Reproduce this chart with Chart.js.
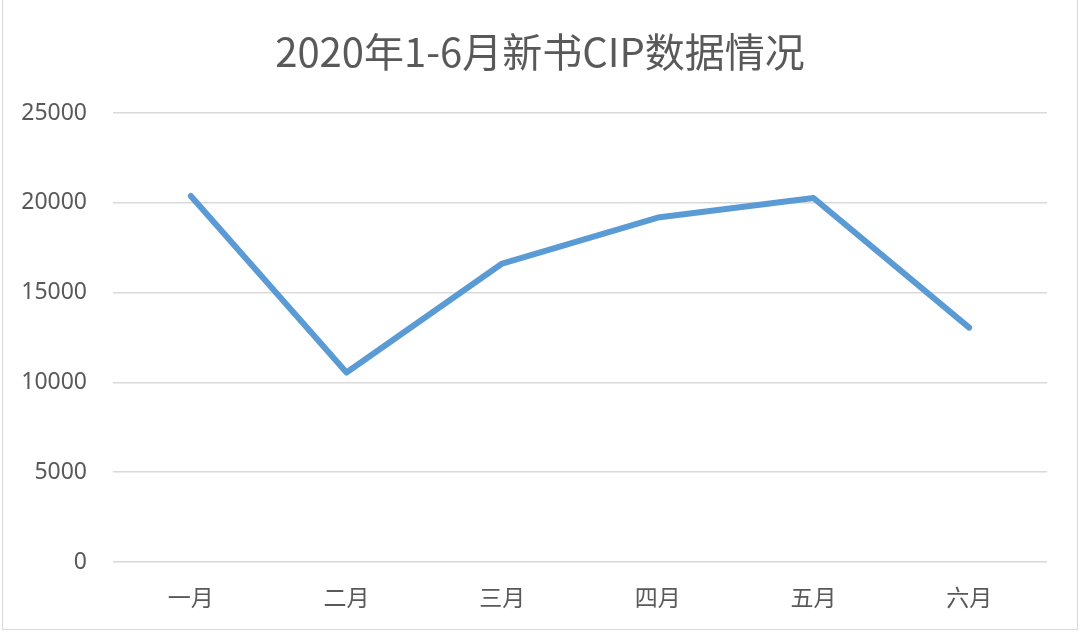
<!DOCTYPE html>
<html>
<head>
<meta charset="utf-8">
<script src="https://cdn.jsdelivr.net/npm/chart.js@4"></script>
<style>
  html, body { margin: 0; padding: 0; background: #fff; }
  #wrap { position: relative; width: 1080px; height: 633px; }
  #frame { position: absolute; left: 2px; top: 0; width: 1074px; height: 629px; border: 1px solid #d9d9d9; border-top: none; pointer-events: none; }
</style>
</head>
<body>
<div id="wrap">
  <canvas id="cipChart" width="1080" height="633"></canvas>
  <div id="frame"></div>
</div>
<script>
// 数据
const months = ["一月", "二月", "三月", "四月", "五月", "六月"];
const cipCounts = [20380, 10550, 16620, 19180, 20270, 13050];
const yTicks = [0, 5000, 10000, 15000, 20000, 25000];

const textColor = "#595959";
const gridColor = "#d9d9d9";

// 标题居中于整个画布
const centerTitle = {
  id: "centerTitle",
  afterLayout(chart) {
    const t = chart.titleBlock;
    if (t) {
      t.left = 0;
      t.right = chart.width;
      t.width = chart.width;
    }
  },
};

const ctx = document.getElementById("cipChart").getContext("2d");
new Chart(ctx, {
  type: "line",
  data: {
    labels: months,
    datasets: [
      {
        label: "新书CIP",
        data: cipCounts,
        borderColor: "#5b9bd5",
        borderWidth: 6,
        borderCapStyle: "round",
        borderJoinStyle: "round",
        pointRadius: 0,
        tension: 0,
        fill: false,
      },
    ],
  },
  options: {
    responsive: false,
    animation: false,
    layout: { padding: { left: 0, right: 33, top: 0, bottom: 0 } },
    plugins: {
      legend: { display: false },
      tooltip: { enabled: false },
      title: {
        display: true,
        text: "2020年1-6月新书CIP数据情况",
        color: textColor,
        font: { family: "'Noto Sans CJK SC', 'Noto Sans'", size: 40, weight: "normal" },
        padding: { top: 28, bottom: 37 },
      },
    },
    scales: {
      x: {
        offset: true,
        grid: { display: false, drawTicks: false },
        border: { display: false },
        ticks: {
          color: textColor,
          padding: 21,
          font: { family: "'Noto Sans CJK SC'", size: 23 },
        },
        afterFit: (scale) => { scale.height = 71; },
      },
      y: {
        min: 0,
        max: 25000,
        afterBuildTicks: (scale) => { scale.ticks = yTicks.map((v) => ({ value: v })); },
        grid: { color: gridColor, lineWidth: 1.5, drawTicks: false },
        border: { display: false },
        ticks: {
          color: textColor,
          padding: 26,
          font: { family: "'Noto Sans', 'Open Sans'", size: 23 },
          callback: (value) => String(value),
        },
        afterFit: (scale) => { scale.width = 113; },
      },
    },
  },
  plugins: [centerTitle],
});
</script>
</body>
</html>
